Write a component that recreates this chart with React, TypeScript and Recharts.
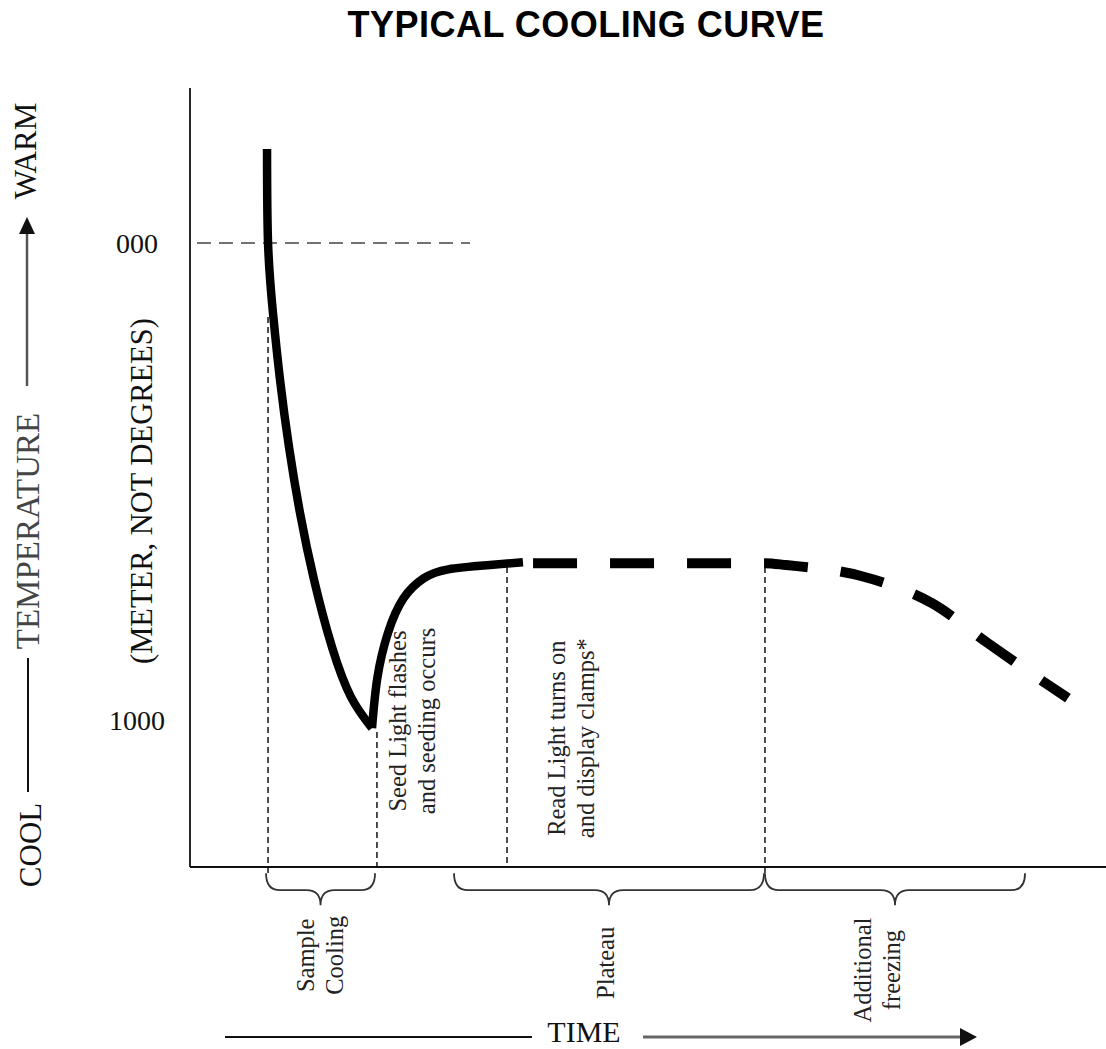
import React from "react";
import {
  ComposedChart,
  Line,
  ReferenceDot,
  ReferenceLine,
  XAxis,
  YAxis,
} from "recharts";

// time runs 0..100 across the axis, temperature is a meter reading (000 at top, 1000 low)
const coolingTime = [8.41, 8.52, 9.06, 9.83, 10.81, 12.01, 13.54, 15.5, 17.58, 19.87];
const coolingMeter = [-197, 0, 147, 287, 428, 566, 706, 847, 952, 1017];

const seedingTime = [19.87, 20.45, 21.6, 23.3, 25.5, 28.2, 32.75, 36.35];
const seedingMeter = [1017, 912, 818, 745, 703, 684, 675, 669];

const plateauTime = [37.45, 62.77, 65.07, 73.25, 81.0, 87.12, 93.89, 95.85];
const plateauMeter = [671, 671, 675, 698, 755, 839, 929, 954];

const yTickValues = [0, 1000];
const yTickLabels = ["000", "1000"];

// event markers: dashed drop lines from the curve to the time axis
const markerTime = [8.52, 20.41, 34.61, 62.77];
const markerTop = [155, 1025, 679, 679];
const markerBottom = [1325, 1308, 1308, 1321];

const noteLines = [
  ["Seed Light flashes", "and seeding occurs"],
  ["Read Light turns on", "and display clamps*"],
];
const noteTime = [24.24, 41.6];
const noteMeter = [1002, 1038];

const phaseLines = [["Sample", "Cooling"], ["Plateau"], ["Additional", "freezing"]];
const phaseStart = [8.3, 28.82, 62.77];
const phaseEnd = [20.2, 62.66, 91.16];
const phaseLabelTime = [14.19, 45.41, 75.0];
const phaseLabelMeter = [1493, 1509, 1524];
const BRACE_METER = 1321;

const SERIF = "'Liberation Serif', 'Times New Roman', serif";
const SANS = "'Liberation Sans', Arial, sans-serif";
const INK = "#111";

const toRows = (t: number[], m: number[]) => t.map((v, i) => ({ t: v, m: m[i] }));

const renderYTick = (props: any) => {
  const { x, y, payload } = props;
  const idx = yTickValues.indexOf(payload.value);
  return (
    <text
      x={x - 53}
      y={y}
      textAnchor="middle"
      dominantBaseline="central"
      fontFamily={SERIF}
      fontSize={28}
      fill={INK}
    >
      {yTickLabels[idx] ?? payload.value}
    </text>
  );
};

const Brace = (props: any) => {
  const { x1, x2, y1 } = props;
  const l = Math.min(x1, x2);
  const r = Math.max(x1, x2);
  const mid = (l + r) / 2;
  const y0 = y1;
  const yb = y0 + 17;
  const yc = y0 + 32;
  const k = 14;
  const d = [
    `M ${l} ${y0}`,
    `Q ${l} ${yb} ${l + k} ${yb}`,
    `L ${mid - k} ${yb}`,
    `Q ${mid} ${yb} ${mid} ${yc}`,
    `Q ${mid} ${yb} ${mid + k} ${yb}`,
    `L ${r - k} ${yb}`,
    `Q ${r} ${yb} ${r} ${y0}`,
  ].join(" ");
  return <path d={d} fill="none" stroke="#333" strokeWidth={1.8} />;
};

const stackedText = (lines: string[]) => (props: any) => {
  const { cx, cy } = props;
  return (
    <g>
      {lines.map((s, i) => {
        const x = cx + (i - (lines.length - 1) / 2) * 29;
        return (
          <text
            key={s}
            x={x}
            y={cy}
            transform={`rotate(-90 ${x} ${cy})`}
            textAnchor="middle"
            dominantBaseline="central"
            fontFamily={SERIF}
            fontSize={24.5}
            fill="#222"
          >
            {s}
          </text>
        );
      })}
    </g>
  );
};

function Frame() {
  // title, rotated temperature label and the time arrow around the plot
  const rot = (x: number, y: number) => `rotate(-90 ${x} ${y})`;
  return (
    <svg
      width={1106}
      height={1049}
      style={{ position: "absolute", left: 0, top: 0, pointerEvents: "none" }}
    >
      <text x={586} y={37} textAnchor="middle" fontFamily={SANS} fontWeight={700} fontSize={36} letterSpacing={0.5} fill="#000">
        TYPICAL COOLING CURVE
      </text>

      <text x={25} y={151} transform={rot(25, 151)} textAnchor="middle" dominantBaseline="central" fontFamily={SERIF} fontSize={31} fill={INK}>
        WARM
      </text>
      <line x1={27} y1={386} x2={27} y2={230} stroke="#555" strokeWidth={2.5} />
      <polygon points="27,217 19,234 35,234" fill="#111" />
      <text x={28} y={531} transform={rot(28, 531)} textAnchor="middle" dominantBaseline="central" fontFamily={SERIF} fontSize={33} fill="#444">
        TEMPERATURE
      </text>
      <line x1={28} y1={658} x2={28} y2={792} stroke={INK} strokeWidth={2} />
      <text x={30} y={845} transform={rot(30, 845)} textAnchor="middle" dominantBaseline="central" fontFamily={SERIF} fontSize={31} fill={INK}>
        COOL
      </text>
      <text x={142} y={491} transform={rot(142, 491)} textAnchor="middle" dominantBaseline="central" fontFamily={SERIF} fontSize={30.5} fill={INK}>
        (METER, NOT DEGREES)
      </text>

      <line x1={225} y1={1037} x2={532} y2={1037} stroke={INK} strokeWidth={2} />
      <text x={584} y={1042} textAnchor="middle" fontFamily={SERIF} fontSize={30} fill={INK}>
        TIME
      </text>
      <line x1={643} y1={1037} x2={962} y2={1037} stroke="#666" strokeWidth={3} />
      <polygon points="960,1028 977,1037 960,1046" fill="#111" />
    </svg>
  );
}

export default function App() {
  return (
    <div style={{ position: "absolute", left: 0, top: 0, width: 1106, height: 1049, background: "#fff" }}>
      <ComposedChart width={1106} height={1049} margin={{ top: 88, right: 0, bottom: 152, left: 0 }}>
        <XAxis
          type="number"
          dataKey="t"
          domain={[0, 100]}
          tick={false}
          tickLine={false}
          height={30}
          axisLine={{ stroke: INK, strokeWidth: 1.8 }}
        />
        <YAxis
          type="number"
          dataKey="m"
          domain={[-325, 1308]}
          reversed
          ticks={yTickValues}
          interval={0}
          tick={renderYTick}
          tickLine={false}
          tickSize={0}
          tickMargin={0}
          width={190}
          axisLine={{ stroke: INK, strokeWidth: 1.8 }}
        />

        <ReferenceLine
          segment={[{ x: 0.76, y: 0 }, { x: 30.57, y: 0 }]}
          stroke="#444"
          strokeWidth={1.5}
          strokeDasharray="14 8"
          ifOverflow="visible"
        />
        {markerTime.map((t, i) => (
          <ReferenceLine
            key={`mk-${t}`}
            segment={[{ x: t, y: markerTop[i] }, { x: t, y: markerBottom[i] }]}
            stroke="#222"
            strokeWidth={1.6}
            strokeDasharray="6 4"
            ifOverflow="visible"
          />
        ))}
        {phaseStart.map((t, i) => (
          <ReferenceLine
            key={`br-${t}`}
            segment={[{ x: t, y: BRACE_METER }, { x: phaseEnd[i], y: BRACE_METER }]}
            shape={Brace}
            ifOverflow="visible"
          />
        ))}

        <Line
          data={toRows(coolingTime, coolingMeter)}
          dataKey="m"
          type="natural"
          stroke="#000"
          strokeWidth={8.5}
          dot={false}
          activeDot={false}
          isAnimationActive={false}
        />
        <Line
          data={toRows(seedingTime, seedingMeter)}
          dataKey="m"
          type="natural"
          stroke="#000"
          strokeWidth={8.5}
          dot={false}
          activeDot={false}
          isAnimationActive={false}
        />
        <Line
          data={toRows(plateauTime, plateauMeter)}
          dataKey="m"
          type="monotone"
          stroke="#000"
          strokeWidth={10}
          strokeDasharray="44 33"
          dot={false}
          activeDot={false}
          isAnimationActive={false}
        />

        {noteLines.map((lines, i) => (
          <ReferenceDot
            key={lines[0]}
            x={noteTime[i]}
            y={noteMeter[i]}
            ifOverflow="visible"
            shape={stackedText(lines)}
          />
        ))}
        {phaseLines.map((lines, i) => (
          <ReferenceDot
            key={lines[0]}
            x={phaseLabelTime[i]}
            y={phaseLabelMeter[i]}
            ifOverflow="visible"
            shape={stackedText(lines)}
          />
        ))}
      </ComposedChart>
      <Frame />
    </div>
  );
}
